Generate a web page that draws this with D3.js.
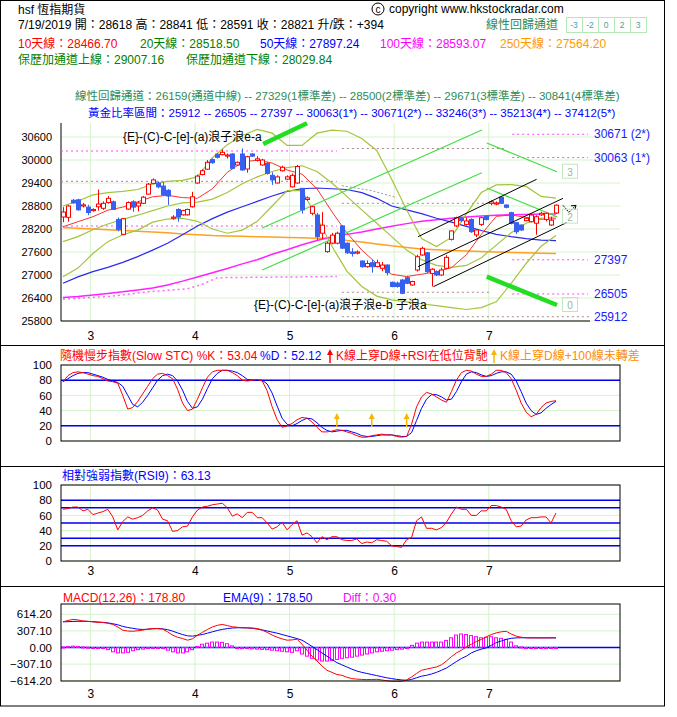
<!DOCTYPE html>
<html><head><meta charset="utf-8">
<script src="https://cdn.jsdelivr.net/npm/d3@7/dist/d3.min.js"></script>
<style>body{margin:0;background:#fff}svg{display:block}text{font-family:"Liberation Sans","Noto Sans CJK TC",sans-serif}</style>
</head><body><svg id="c" width="677" height="717"></svg>
<script>
// ---------------- DATA ----------------
const monthStartIdx = [6, 27, 46, 67, 86];
const monthLabels = ["3", "4", "5", "6", "7"];
const priceTicks = [25800, 26400, 27000, 27600, 28200, 28800, 29400, 30000, 30600];

const open = [28513,28505,28950,28960,28800,28770,28680,28780,28740,28890,28910,28450,28060,28720,28910,28800,28870,29110,29390,29400,
29320,29210,28480,28710,28570,28570,28780,29400,29620,29760,30010,30150,30140,30100,30157,29870,30157,29765,30157,29990,
29870,29910,29600,29400,29720,29500,29300,29400,29260,28970,28610,28565,28090,27610,27830,27830,28280,27830,27600,27570,
27365,27217,27320,27220,27175,27260,26810,26790,26870,26930,26740,27130,27522,27580,27040,27087,27000,27175,27930,28280,
28480,28320,28450,28045,28320,28530,28870,28850,29030,28826,28626,28365,28304,28417,28390,28350,28570,28450,28304,28618];
const high = [28770,28830,28980,28990,28880,28830,28740,29230,28920,29060,28940,28500,28490,28920,28950,28930,29060,29400,29520,29440,
29430,29240,28560,28740,28700,28730,29170,29620,29760,30000,30040,30180,30280,30170,30180,29960,30300,30110,30180,30100,
30030,29950,29680,29600,29850,29600,29650,29870,29270,29050,28800,28620,28640,27870,28100,28130,28300,27850,27700,27640,
27380,27380,27400,27400,27340,27280,26830,26830,26900,26980,26850,27530,27740,27600,27180,27120,27190,27520,28160,28520,
28520,28500,28480,28200,28520,28560,28950,28920,29060,28840,28650,28380,28320,28500,28600,28560,28650,28630,28520,28841];
const low = [28380,28390,28860,28680,28760,28560,28650,28680,28700,28860,28700,28140,28040,28700,28650,28660,28850,29100,29370,29260,
29060,28830,28440,28390,28550,28550,28760,29380,29600,29740,29900,30040,30120,30040,29770,29850,29720,29670,30080,29960,
29850,29620,29350,29390,29700,29480,29280,29380,28600,28940,28560,27900,27940,27580,27800,27800,27680,27550,27480,27540,
27190,27190,27060,27200,27100,26990,26680,26670,26500,26760,26720,27090,27500,27050,26700,26970,26980,27150,27900,28250,
28380,28290,28100,27990,28280,28420,28820,28820,28850,28740,28320,28070,28150,28400,28370,28050,28540,28400,28280,28591];
const close = [28643,28800,28880,28700,28830,28630,28710,28850,28870,29000,28710,28190,28470,28890,28770,28880,29030,29370,29480,29300,
29090,29060,28510,28510,28680,28710,29040,29580,29720,29940,29930,30070,30200,30130,29783,29940,29740,30087,30100,30030,
30000,29650,29480,29560,29810,29560,29600,29830,28700,29010,28783,28000,28300,27830,28040,28090,27700,27580,27560,27600,
27217,27300,27217,27320,27260,27060,26700,26700,26523,26783,26830,27477,27696,27087,27150,27000,27130,27460,28150,28495,
28417,28410,28130,28174,28495,28450,28910,28880,28870,28766,28348,28130,28174,28480,28565,28520,28610,28610,28430,28821];

// moving averages / bands, read every 3rd session
const maIdx = [0,3,6,9,12,15,18,21,24,27,30,33,36,39,42,45,48,51,54,57,60,63,66,69,72,75,78,81,84,87,90,93,96,99];
const ma10 = [28260,28390,28520,28690,28770,28910,29040,29080,29020,29000,29250,29680,29940,30000,29920,29740,29630,29250,28650,28100,27650,27300,27020,26960,27020,27087,27190,27530,28060,28530,28565,28505,28453,28467];
const ma20 = [27870,28000,28180,28330,28450,28560,28680,28800,28880,28900,28980,29150,29380,29560,29700,29800,29850,29700,29400,29050,28700,28350,28000,27650,27400,27250,27200,27250,27450,27780,28100,28350,28480,28518];
const bbUp = [28800,28930,29090,29150,29180,29230,29370,29440,29470,29560,30060,30400,30640,30800,30700,30380,30380,30700,30780,30750,30560,30250,29500,28700,27950,27740,27980,28600,29150,29350,29360,29310,29050,29007];
const bbLow = [26957,27180,27560,27870,28050,28170,28380,28460,28480,28400,28200,28090,28170,28400,28800,29200,29200,28500,27750,27100,26700,26450,26350,26300,26250,26200,26150,26100,26150,26300,26780,27300,27750,28030];
const ma50 = [26783,26950,27087,27200,27330,27480,27650,27830,28050,28280,28470,28640,28780,28920,29060,29180,29250,29270,29250,29230,29150,29000,28800,28700,28600,28480,28380,28270,28160,28060,28000,27950,27910,27897];
const ma100 = [26410,26440,26480,26520,26560,26610,26660,26740,26840,26950,27060,27170,27290,27400,27540,27660,27790,27900,28000,28060,28120,28200,28270,28340,28400,28440,28480,28510,28540,28560,28575,28580,28590,28593];
const ma250 = [28240,28220,28200,28180,28160,28140,28120,28100,28070,28050,28030,28020,28010,28000,27990,27980,27970,27960,27950,27900,27860,27810,27760,27720,27680,27660,27640,27625,27610,27600,27590,27580,27570,27564];
const dottedMag = [[0,26370],[10,26450],[17,26560],[25,26640],[28,26760],[31,26930],[55,26960]];
const grayCurve = [[56,29330],[62,29200],[67,29020]];

// levels
const fibLeft = [30235, 29444, 28278];
const fibRight = [30671, 30063, 27397, 26505];
const fibRightText = ["30671 (2*)", "30063 (1*)", "27397", "26505", "25912"];
const fibRightAll = [30671, 30063, 27397, 26505, 25912];
const grayLevels = [30300, 28870, 26550];

// regression / trend lines (session index, price)
const greenThin = [[[40.0,28226],[84.1,30783]], [[40.0,27130],[84.1,29669]], [[85.1,30443],[99.2,29695]], [[85.1,29270],[99.2,28521]]];
const greenThick = [[[40.2,30417],[49.0,30957]], [[85.1,26956],[99.2,26217]]];
const channelLines = [[[71.3,28000],[95.1,29497]], [[71.3,27217],[100.4,29000]], [[74.4,26696],[101.1,28365]]];
const arrowPts = [[100.4,28817],[101.6,28635],[103.0,28817]];
const boxLabels = [["3",29695],["2",28521],["0",26217]];

// stochastic
const stochK = [78,86,90,91,90,88,86,85,82,79,78,76,60,42,44,52,62,72,82,88,89,86,82,68,50,40,42,55,70,84,91,93,93,93,90,86,80,79,80,81,
79,66,45,28,18,20,23,28,31,30,25,18,12,12,13,15,14,12,10,7,5,5,7,8,9,8,8,6,5,6,22,45,58,64,62,58,54,51,65,80,
90,93,92,88,85,85,88,93,93,90,82,67,50,38,32,35,44,50,52,53.04];
const stochD = [78,82,86,89,90,90,88,86,84,81,79,77,72,60,48,45,51,60,70,80,86,88,86,79,67,52,43,45,55,69,82,89,93,93,92,90,86,81,80,80,
80,75,63,46,30,22,20,23,27,30,29,24,18,14,12,13,14,14,12,10,7,6,6,7,8,8,8,7,6,6,11,27,43,55,61,61,58,54,55,65,
78,88,91,90,87,85,86,89,91,91,88,79,65,50,40,35,37,43,48,52.12];
const stochArrowIdx = [55, 62, 69];
// RSI
const rsi = [68,69,71,71,66,68,61,63,65,68,58,41,52,58,55,57,60,66,70,67,55,53,39,40,45,46,58,67,71,72,74,75,76,70,59,62,57,64,64,57,
57,50,42,45,51,41,48,53,34,37,32,24,32,28,32,32,28,27,27,29,23,25,24,28,27,26,20,19,18,28,31,53,58,43,43,41,44,51,62,71,
68,68,60,60,66,66,73,73,71,68,53,45,46,54,57,57,58,58,50,63.13];
const rsiLevels = [80, 70, 50, 30, 20];
// MACD
const macd = [475,500,520,510,490,485,475,465,462,450,427,380,321,305,300,310,321,340,352,350,340,290,230,190,167,135,160,228,280,334,
380,410,427,405,383,375,364,364,360,352,320,280,230,190,160,135,140,154,60,-50,-160,-250,-340,-421,-460,-500,-514,-550,-576,-585,
-590,-594,-592,-588,-600,-615,-626,-626,-626,-600,-545,-480,-421,-400,-380,-360,-320,-250,-170,-100,-50,10,60,110,150,197,240,270,290,300,
250,210,190,180,178,178,178,178,179,178.8];
const ema9 = [475,478,482,485,485,482,478,472,465,455,440,420,390,370,355,340,334,338,345,350,345,330,303,270,240,216,210,225,240,265,
290,315,335,350,360,365,365,362,355,340,325,305,285,265,240,215,190,165,135,80,20,-40,-100,-160,-220,-280,-320,-360,-400,-435,
-460,-480,-500,-520,-540,-560,-575,-590,-600,-607,-590,-560,-530,-514,-490,-460,-421,-380,-320,-260,-204,-160,-100,-60,-30,-7,40,90,120,150,
170,178,180,180,179,179,178,178,178,178.5];
const diff = [10,20,25,20,10,5,0,-5,-10,-40,-80,-100,-100,-90,-60,-40,-30,-20,-15,-10,-20,-50,-80,-100,-100,-80,-40,20,60,80,
100,100,95,70,30,-10,-20,-20,-25,-30,-35,-40,-50,-60,-70,-80,-90,-60,-120,-160,-200,-230,-250,-250,-240,-220,-200,-190,-180,-160,
-140,-120,-100,-80,-70,-60,-50,-40,-30,-20,40,80,100,100,100,100,100,130,180,230,250,240,220,200,180,190,200,180,170,150,
100,30,10,0,-5,-5,-5,-5,-5,0.3];
const macdTicks = [614.20, 307.10, 0, -307.10, -614.20];

// ---------------- DRAW ----------------
const svg = d3.select("#c");
const FONT = '"Liberation Sans","Noto Sans CJK TC",sans-serif';
const GRID = "#d6f2cc", OLIVE = "#a5c43c", UP = "#ff0000", DOWN = "#3860f0";
const x = d3.scaleLinear().domain([0, 99]).range([63, 556]);
const yM = d3.scaleLinear().domain([25800, 30600]).range([321, 137]);

function txt(g, X, Y, s, fill, size, anchor) {
  return g.append("text").attr("x", X).attr("y", Y).text(s).attr("fill", fill || "#000")
    .attr("font-size", size || 12).attr("text-anchor", anchor || "start").style("font-family", FONT);
}
[[0.5,0.5,664,345],[0.5,345.5,664,121],[0.5,466.5,664,120],[0.5,586.5,664,119.5]].forEach(r=>{
  svg.append("rect").attr("x",r[0]).attr("y",r[1]).attr("width",r[2]).attr("height",r[3]).attr("fill","none").attr("stroke","#000");
});

// ---------- header ----------
const hd = svg.append("g");
txt(hd, 18, 14, "hsf 恆指期貨", "#000", 12);
hd.append("circle").attr("cx", 378).attr("cy", 9).attr("r", 6).attr("fill","none").attr("stroke","#000");
txt(hd, 378, 12.5, "c", "#000", 10, "middle");
txt(hd, 389, 13, "copyright www.hkstockradar.com", "#000", 12);
txt(hd, 18, 29, "7/19/2019 開：28618 高：28841 低：28591 收：28821 升/跌：+394", "#000", 12);
txt(hd, 486, 29, "線性回歸通道", "#2e8b57", 12);
["-3","-2","0","2","3"].forEach((s,i)=>{
  hd.append("rect").attr("x",566+16*i+0.5).attr("y",17.5).attr("width",16).attr("height",15).attr("fill","#fff").attr("stroke","#b5e8b5");
  txt(hd, 574+16*i, 28, s, "#4a9fa0", 8.5, "middle");
});
txt(hd, 18, 48, "10天線：28466.70", "#ff0000", 12);
txt(hd, 140, 48, "20天線：28518.50", "#008000", 12);
txt(hd, 260, 48, "50天線：27897.24", "#0000ff", 12);
txt(hd, 380, 48, "100天線：28593.07", "#ff00ff", 12);
txt(hd, 500, 48, "250天線：27564.20", "#ff9900", 12);
txt(hd, 18, 64, "保歷加通道上線：29007.16", "#008000", 12);
txt(hd, 186, 64, "保歷加通道下線：28029.84", "#008000", 12);
txt(hd, 75, 100, "線性回歸通道：26159(通道中線) -- 27329(1標準差) -- 28500(2標準差) -- 29671(3標準差) -- 30841(4標準差)", "#2e8b57", 11.5);
txt(hd, 88, 117, "黃金比率區間：25912 -- 26505 -- 27397 -- 30063(1*) -- 30671(2*) -- 33246(3*) -- 35213(4*) -- 37412(5*)", "#0000ff", 11.5);

// ---------- main chart ----------
const m = svg.append("g");
priceTicks.forEach(p=>m.append("line").attr("x1",61).attr("x2",620).attr("y1",yM(p)).attr("y2",yM(p)).attr("stroke",GRID));
monthStartIdx.forEach(i=>m.append("line").attr("x1",x(i-0.5)).attr("x2",x(i-0.5)).attr("y1",123).attr("y2",321).attr("stroke",GRID));
const ya = m.append("g").attr("transform","translate(61,0)").call(d3.axisLeft(yM).tickValues(priceTicks).tickSize(0).tickPadding(9).tickFormat(d3.format("d")));
ya.select(".domain").remove();
ya.selectAll("text").attr("font-size",11).style("font-family",FONT).attr("fill","#000");
m.append("line").attr("x1",61).attr("x2",61).attr("y1",123).attr("y2",321).attr("stroke","#000");
m.append("line").attr("x1",61).attr("x2",590).attr("y1",321).attr("y2",321).attr("stroke","#000");
const xa = m.append("g").attr("transform","translate(0,321)").call(d3.axisBottom(x).tickValues(monthStartIdx.map(i=>i-0.5)).tickFormat((d,i)=>monthLabels[i]).tickSize(0).tickPadding(10));
xa.select(".domain").remove();
xa.selectAll("text").attr("font-size",12).style("font-family",FONT).attr("fill","#000");

const dash = "2,3";
fibLeft.forEach(p=>m.append("line").attr("x1",61).attr("x2",x(55)).attr("y1",yM(p)).attr("y2",yM(p)).attr("stroke","#ff44ff").attr("stroke-dasharray",dash));
fibRight.forEach(p=>m.append("line").attr("x1",x(90.2)).attr("x2",588).attr("y1",yM(p)).attr("y2",yM(p)).attr("stroke","#ff44ff").attr("stroke-dasharray",dash));
grayLevels.forEach((p,k)=>m.append("line").attr("x1",x(56)).attr("x2",x(k==0?89:85.7)).attr("y1",yM(p)).attr("y2",yM(p)).attr("stroke","#aa8888").attr("stroke-dasharray",dash));
m.append("line").attr("x1",x(56)).attr("x2",590).attr("y1",yM(25912)).attr("y2",yM(25912)).attr("stroke","#aa8888").attr("stroke-dasharray",dash);

const lineXY = d3.line().x(d=>x(d[0])).y(d=>yM(d[1]));
m.append("path").attr("d",lineXY(dottedMag)).attr("fill","none").attr("stroke","#ff66ff").attr("stroke-width",1.5).attr("stroke-dasharray","2,3");
m.append("path").attr("d",lineXY(grayCurve)).attr("fill","none").attr("stroke","#999").attr("stroke-dasharray","2,2");

const maLine = arr => lineXY(maIdx.map((i,k)=>[i, arr[k]]));
[[ma250,"#ffa020",1.5],[ma100,"#ff22ff",1.5],[ma50,"#2a2af0",1.2],[bbUp,OLIVE,1.2],[ma20,OLIVE,1.2],[bbLow,OLIVE,1.2],[ma10,"#ff3030",1]].forEach(s=>{
  m.append("path").attr("d",maLine(s[0])).attr("fill","none").attr("stroke",s[1]).attr("stroke-width",s[2]);
});
greenThin.forEach(l=>m.append("path").attr("d",lineXY(l)).attr("stroke","#44dd44").attr("stroke-width",1.2).attr("fill","none"));
greenThick.forEach(l=>m.append("path").attr("d",lineXY(l)).attr("stroke","#22dd22").attr("stroke-width",4.5).attr("fill","none"));

const cg = m.append("g");
close.forEach((c,i)=>{
  const up = c >= open[i], col = up ? UP : DOWN, cx = Math.round(x(i)) + 0.5;
  cg.append("line").attr("x1",cx).attr("x2",cx).attr("y1",yM(high[i])).attr("y2",yM(low[i])).attr("stroke",col);
  const y1 = yM(Math.max(c, open[i])), y2 = yM(Math.min(c, open[i]));
  cg.append("rect").attr("x",cx-2).attr("y",y1).attr("width",4).attr("height",Math.max(1,y2-y1))
    .attr("fill", up ? "#fff" : DOWN).attr("stroke", col);
});
channelLines.forEach(l=>m.append("path").attr("d",lineXY(l)).attr("stroke","#000").attr("stroke-width",1).attr("fill","none"));
m.append("path").attr("d",lineXY(arrowPts)).attr("stroke","#000").attr("fill","none").attr("stroke-dasharray","2,1");
{ const e = arrowPts[2], ex = x(e[0]), ey = yM(e[1]);
  m.append("path").attr("d",`M${ex},${ey} l-5,0.5 M${ex},${ey} l-1,4.5`).attr("stroke","#000").attr("fill","none"); }
boxLabels.forEach(b=>{
  const bx = x(100.2), by = yM(b[1]);
  m.append("rect").attr("x",bx+0.5).attr("y",by-7.5).attr("width",15).attr("height",14).attr("fill","none").attr("stroke","#bde8bd");
  txt(m, bx+8, by+4, b[0], "#9ab59a", 10, "middle");
});
fibRightAll.forEach((p,k)=>txt(m, 594, yM(p)+4, fibRightText[k], "#1a1aff", 12));
txt(m, 123, 141, "{E}-(C)-C-[e]-(a)浪子浪e-a", "#000", 12);
txt(m, 254, 309, "{E}-(C)-C-[e]-(a)浪子浪e-b 子浪a", "#000", 12);

// ---------- lower panels ----------
function panel(top, bottom, dom, ticks, fmt) {
  const y = d3.scaleLinear().domain(dom).range([bottom, top]);
  const g = svg.append("g");
  ticks.forEach(v=>g.append("line").attr("x1",61).attr("x2",620).attr("y1",y(v)).attr("y2",y(v)).attr("stroke",GRID));
  monthStartIdx.forEach(i=>g.append("line").attr("x1",x(i-0.5)).attr("x2",x(i-0.5)).attr("y1",top).attr("y2",bottom).attr("stroke",GRID));
  const a = g.append("g").attr("transform","translate(61,0)").call(d3.axisLeft(y).tickValues(ticks).tickSize(0).tickPadding(9).tickFormat(fmt));
  a.select(".domain").remove();
  a.selectAll("text").attr("font-size",11.5).style("font-family",FONT).attr("fill","#000");
  return {g, y};
}
const ln = (y, arr) => d3.line().x((d,i)=>x(i)).y(d=>y(d))(arr);

const st = panel(365, 441, [0,100], [0,20,40,60,80,100], d3.format("d"));
[80,20].forEach(v=>st.g.append("line").attr("x1",61).attr("x2",620).attr("y1",st.y(v)).attr("y2",st.y(v)).attr("stroke","#0000ee").attr("stroke-width",1.5));
st.g.append("rect").attr("x",61).attr("y",365).attr("width",559).attr("height",76).attr("fill","none").attr("stroke","#000");
st.g.append("path").attr("d",ln(st.y,stochD)).attr("fill","none").attr("stroke","#0000ff");
st.g.append("path").attr("d",ln(st.y,stochK)).attr("fill","none").attr("stroke","#ff0000");
function arrow(g, X, Y1, Y2, col) {
  g.append("line").attr("x1",X).attr("x2",X).attr("y1",Y1+4).attr("y2",Y2).attr("stroke",col).attr("stroke-width",1.5);
  g.append("path").attr("d",`M${X-3},${Y1+6} L${X},${Y1} L${X+3},${Y1+6} Z`).attr("fill",col);
}
stochArrowIdx.forEach(i=>arrow(st.g, x(i), 413, 427, "#f5b800"));
txt(st.g, 60, 360, "隨機慢步指數(Slow STC) %K：53.04", "#ff0000", 12);
txt(st.g, 260, 360, "%D：52.12", "#0000ff", 12);
arrow(st.g, 330, 349, 363, "#ff0000");
txt(st.g, 336, 360, "K線上穿D線+RSI在低位背馳", "#ff0000", 12);
arrow(st.g, 494, 349, 363, "#f5b800");
txt(st.g, 500, 360, "K線上穿D線+100線未轉差", "#ff8c00", 12);

const rs = panel(485, 561, [0,100], [0,20,40,60,80,100], d3.format("d"));
rsiLevels.forEach(v=>rs.g.append("line").attr("x1",61).attr("x2",620).attr("y1",rs.y(v)).attr("y2",rs.y(v)).attr("stroke","#0000ee").attr("stroke-width",1.5));
rs.g.append("rect").attr("x",61).attr("y",485).attr("width",559).attr("height",76).attr("fill","none").attr("stroke","#000");
rs.g.append("path").attr("d",ln(rs.y,rsi)).attr("fill","none").attr("stroke","#ff0000");
const rxa = rs.g.append("g").attr("transform","translate(0,561)").call(d3.axisBottom(x).tickValues(monthStartIdx.map(i=>i-0.5)).tickFormat((d,i)=>monthLabels[i]).tickSize(0).tickPadding(5));
rxa.select(".domain").remove();
rxa.selectAll("text").attr("font-size",12).style("font-family",FONT).attr("fill","#000");
txt(rs.g, 62, 480, "相對強弱指數(RSI9)：63.13", "#0000ff", 12);

const yMa = d3.scaleLinear().domain([-614.2, 614.2]).range([680.7, 614.3]);
const mg = svg.append("g");
macdTicks.forEach(v=>mg.append("line").attr("x1",61).attr("x2",620).attr("y1",yMa(v)).attr("y2",yMa(v)).attr("stroke",GRID));
monthStartIdx.forEach(i=>mg.append("line").attr("x1",x(i-0.5)).attr("x2",x(i-0.5)).attr("y1",604).attr("y2",681).attr("stroke",GRID));
const ma_ = mg.append("g").attr("transform","translate(61,0)").call(d3.axisLeft(yMa).tickValues(macdTicks).tickSize(0).tickPadding(9).tickFormat(d3.format(".2f")));
ma_.select(".domain").remove();
ma_.selectAll("text").attr("font-size",11.5).style("font-family",FONT).attr("fill","#000");
mg.append("line").attr("x1",61).attr("x2",620).attr("y1",yMa(0)).attr("y2",yMa(0)).attr("stroke","#0000ee").attr("stroke-width",1.5);
diff.forEach((d,i)=>{
  const y0 = yMa(0), y1 = yMa(d);
  mg.append("rect").attr("x",Math.round(x(i))-1.5).attr("y",Math.min(y0,y1)).attr("width",3).attr("height",Math.max(1,Math.abs(y1-y0)))
    .attr("fill","none").attr("stroke","#ff00ff");
});
mg.append("path").attr("d",ln(yMa,ema9)).attr("fill","none").attr("stroke","#0000ff");
mg.append("path").attr("d",ln(yMa,macd)).attr("fill","none").attr("stroke","#ff0000");
mg.append("rect").attr("x",61).attr("y",604).attr("width",559).attr("height",77).attr("fill","none").attr("stroke","#000");
const mxa = mg.append("g").attr("transform","translate(0,681)").call(d3.axisBottom(x).tickValues(monthStartIdx.map(i=>i-0.5)).tickFormat((d,i)=>monthLabels[i]).tickSize(0).tickPadding(8));
mxa.select(".domain").remove();
mxa.selectAll("text").attr("font-size",12).style("font-family",FONT).attr("fill","#000");
txt(mg, 63, 602, "MACD(12,26)：178.80", "#ff0000", 12);
txt(mg, 223, 602, "EMA(9)：178.50", "#0000ff", 12);
txt(mg, 343, 602, "Diff：0.30", "#ff00ff", 12);
</script></body></html>
